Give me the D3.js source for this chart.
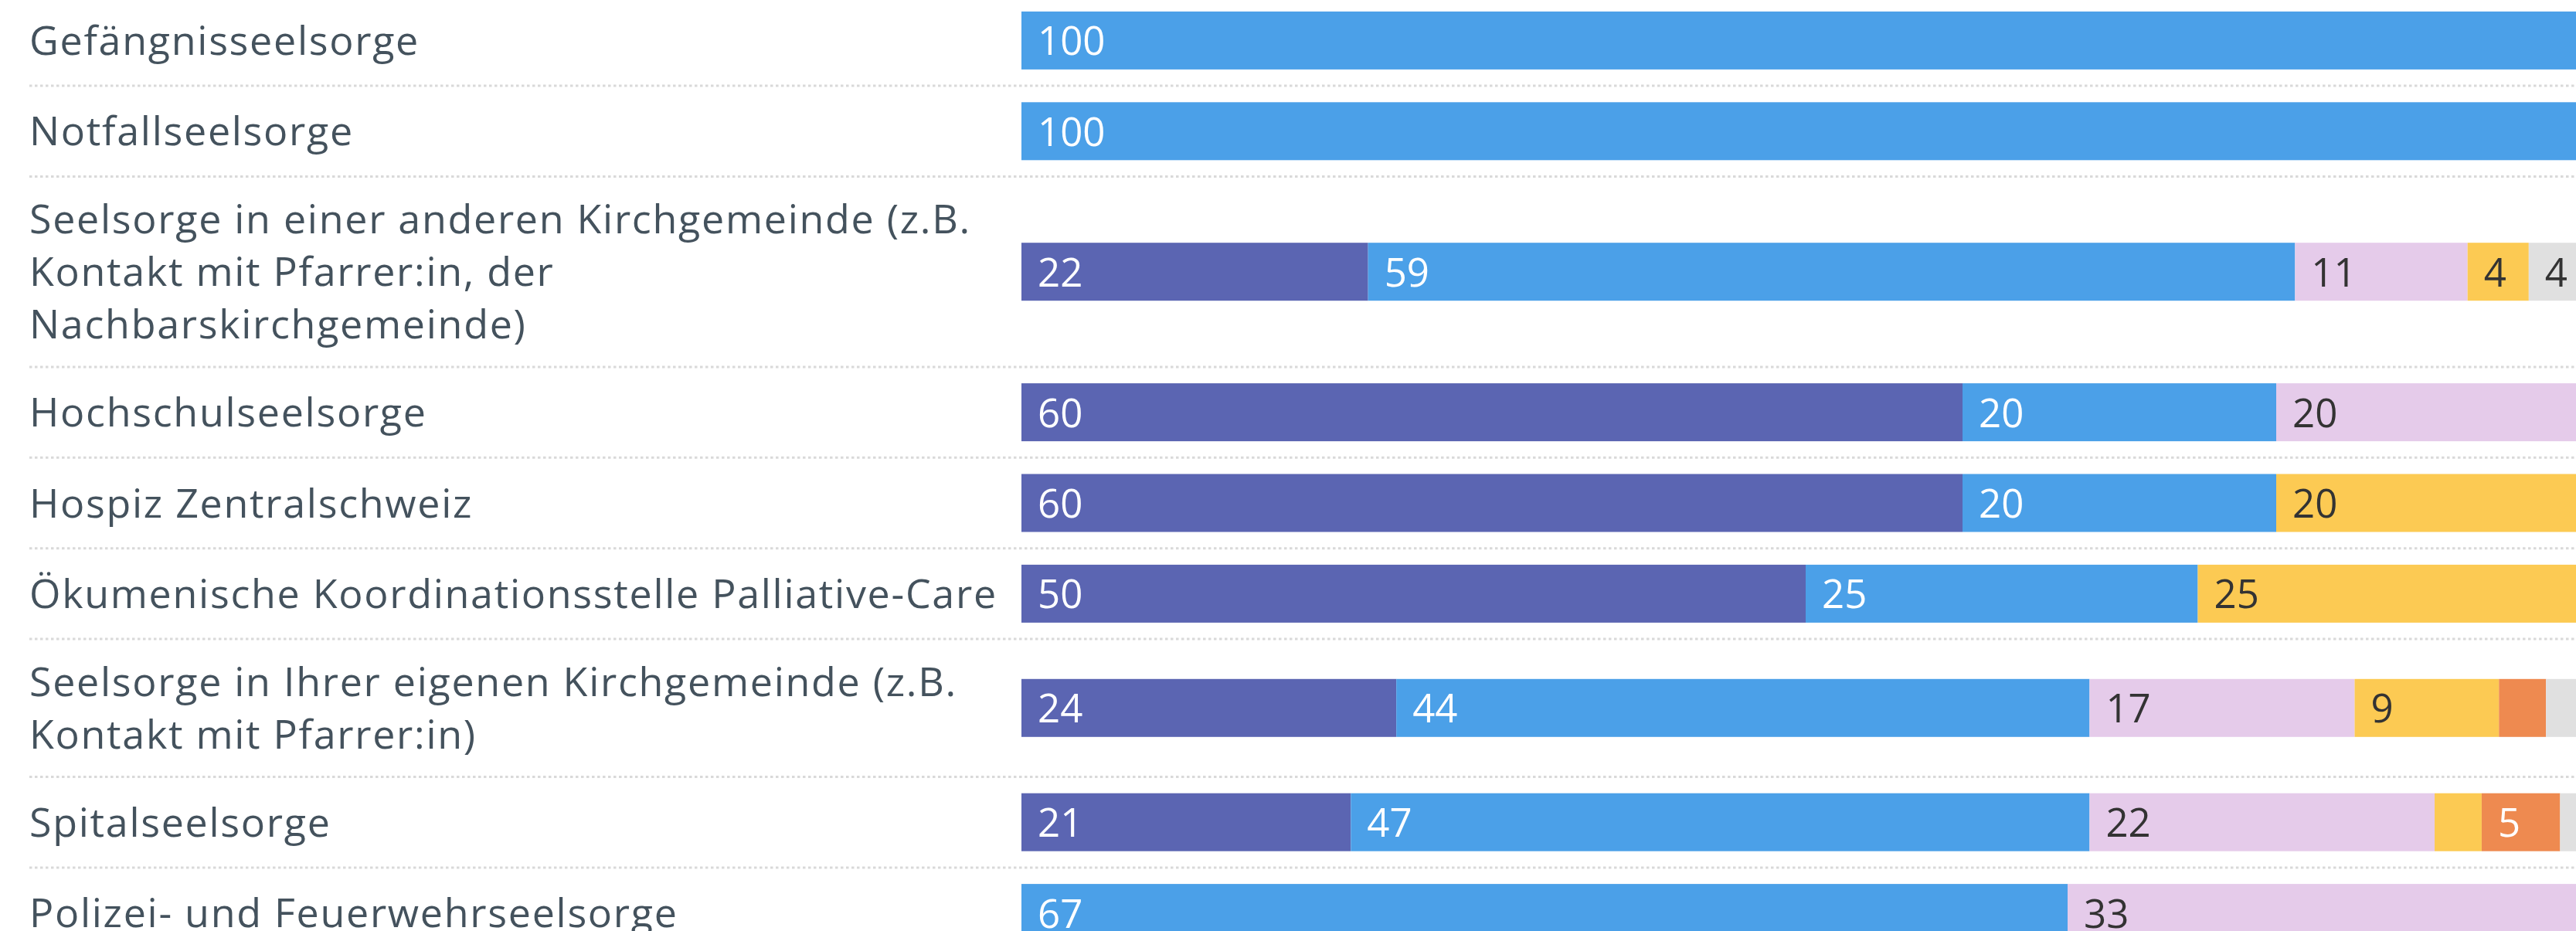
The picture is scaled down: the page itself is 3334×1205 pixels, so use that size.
<!DOCTYPE html>
<html>
<head>
<meta charset="utf-8">
<script src="https://cdn.jsdelivr.net/npm/d3@7"></script>
<style>
  body { margin: 0; background: #fff; overflow: hidden; }
  svg { display: block; }
  .row-label { font-family: "Open Sans", sans-serif; font-size: 52px; letter-spacing: 1.7px; fill: #44525d; }
  .value-label { font-family: "Open Sans", sans-serif; font-size: 51px; }
  .divider { stroke: #d9d9d9; stroke-width: 3; stroke-dasharray: 3.5 3.5; }
</style>
</head>
<body>
<script>
const categories = [
    'Gefängnisseelsorge',
    'Notfallseelsorge',
    'Seelsorge in einer anderen Kirchgemeinde (z.B. Kontakt mit Pfarrer:in, der Nachbarskirchgemeinde)',
    'Hochschulseelsorge',
    'Hospiz Zentralschweiz',
    'Ökumenische Koordinationsstelle Palliative-Care',
    'Seelsorge in Ihrer eigenen Kirchgemeinde (z.B. Kontakt mit Pfarrer:in)',
    'Spitalseelsorge',
    'Polizei- und Feuerwehrseelsorge'
];

// six answer groups, left to right
const seriesKeys = ['s1', 's2', 's3', 's4', 's5', 's6'];
const s1 = [0, 0, 22.1, 60, 60, 50, 23.9, 21.0, 0];
const s2 = [100, 100, 59.1, 20, 20, 25, 44.2, 47.1, 66.7];
const s3 = [0, 0, 11.0, 20, 0, 0, 16.9, 22.0, 33.3];
const s4 = [0, 0, 3.9, 0, 20, 25, 9.2, 3.0, 0];
const s5 = [0, 0, 0, 0, 0, 0, 3.0, 5.0, 0];
const s6 = [0, 0, 3.9, 0, 0, 0, 2.8, 1.9, 0];
const xTicks = [0, 100];

const colors = ['#5b65b2', '#4ba0e8', '#e5cbea', '#fcca53', '#ee8a50', '#e0e0e0'];
const labelColors = ['#fff', '#fff', '#333', '#333', '#fff', '#333'];

const width = 3334;
const height = 1205;
const labelX = 38;
const wrapWidth = 1268;
const barH = 75;
const lineH = 68;
const pad = 21.2;

const rows = categories.map((c, i) => {
    const r = { name: c };
    seriesKeys.forEach((k, j) => r[k] = [s1, s2, s3, s4, s5, s6][j][i]);
    return r;
});

const svg = d3.select('body')
    .append('svg')
    .attr('width', width)
    .attr('height', height);

const x = d3.scaleLinear()
    .domain(d3.extent(xTicks))
    .range([1322, 3352]);

const color = d3.scaleOrdinal().domain(seriesKeys).range(colors);
const textColor = d3.scaleOrdinal().domain(seriesKeys).range(labelColors);

// wrap labels first, row heights depend on line count
const measure = svg.append('text').attr('class', 'row-label');
function wrap(str) {
    const words = str.split(' ');
    const lines = [];
    let cur = '';
    words.forEach(w => {
        const test = cur ? cur + ' ' + w : w;
        measure.text(test);
        if (measure.node().getComputedTextLength() > wrapWidth && cur) {
            lines.push(cur);
            cur = w;
        } else {
            cur = test;
        }
    });
    lines.push(cur);
    return lines;
}

let yCursor = -6.3;
rows.forEach(r => {
    r.lines = wrap(r.name);
    const h = Math.max(barH, r.lines.length * lineH) + 2 * pad;
    r.top = yCursor;
    r.cy = yCursor + h / 2;
    yCursor += h;
    r.bottom = yCursor;
});
measure.remove();

svg.selectAll('line.divider')
    .data(rows)
    .enter()
    .append('line')
        .attr('class', 'divider')
        .attr('x1', labelX)
        .attr('x2', width)
        .attr('y1', d => d.bottom)
        .attr('y2', d => d.bottom);

svg.selectAll('text.row-label')
    .data(rows)
    .enter()
    .append('text')
        .attr('class', 'row-label')
        .attr('x', labelX)
        .attr('y', d => d.cy + 18.5 - (d.lines.length - 1) * lineH / 2)
    .selectAll('tspan')
    .data(d => d.lines)
    .enter()
    .append('tspan')
        .attr('x', labelX)
        .attr('dy', (d, i) => i ? lineH : 0)
        .text(d => d);

const stacked = d3.stack().keys(seriesKeys)(rows);

const layers = svg.selectAll('g.layer')
    .data(stacked)
    .enter()
    .append('g')
        .attr('class', 'layer');

layers.selectAll('rect')
    .data(d => d.filter(p => p[1] - p[0] > 0).map(p => ({ p, key: d.key })))
    .enter()
    .append('rect')
        .attr('x', d => x(d.p[0]))
        .attr('width', d => x(d.p[1]) - x(d.p[0]))
        .attr('y', d => d.p.data.cy - barH / 2)
        .attr('height', barH)
        .attr('fill', d => color(d.key));

const fmt = d3.format('.0f');
layers.selectAll('text')
    .data(d => d.filter(p => p[1] - p[0] > 0).map(p => ({ p, key: d.key })))
    .enter()
    .append('text')
        .attr('class', 'value-label')
        .attr('x', d => x(d.p[0]) + 21)
        .attr('y', d => d.p.data.cy + 19)
        .attr('fill', d => textColor(d.key))
        .text(d => fmt(d.p[1] - d.p[0]))
    .each(function(d) {
        // hide labels that do not fit in their segment
        const segW = x(d.p[1]) - x(d.p[0]);
        if (this.getComputedTextLength() + 42 > segW) d3.select(this).remove();
    });
</script>
</body>
</html>
